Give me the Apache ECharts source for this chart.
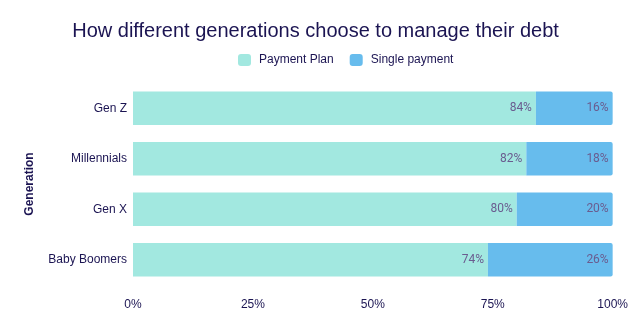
<!DOCTYPE html>
<html>
<head>
<meta charset="utf-8">
<script src="https://cdn.jsdelivr.net/npm/echarts@6/dist/echarts.min.js"></script>
<style>
  html, body { margin: 0; padding: 0; background: #fff; }
  #chart { width: 631px; height: 330px; }
</style>
</head>
<body>
<div id="chart"></div>
<script>
const categories = ['Gen Z', 'Millennials', 'Gen X', 'Baby Boomers'];
const paymentPlan = [84, 82, 80, 74];
const singlePayment = [16, 18, 20, 26];
const xTicks = [0, 25, 50, 75, 100];

const textColor = '#1b1452';
const labelColor = '#6a5c8f';
const sans = 'Liberation Sans';

const chart = echarts.init(document.getElementById('chart'), null, { renderer: 'canvas' });

const valueLabel = {
  show: true,
  position: 'insideRight',
  distance: 4,
  formatter: p => p.value + '%',
  fontFamily: 'Roboto',
  fontSize: 12,
  color: labelColor
};

chart.setOption({
  animation: false,
  title: {
    text: 'How different generations choose to manage their debt',
    left: 'center',
    top: 16,
    textStyle: { fontFamily: sans, fontSize: 20, fontWeight: 'normal', color: textColor }
  },
  legend: {
    top: 49,
    left: 233,
    itemWidth: 13,
    itemHeight: 12,
    itemGap: 16,
    icon: 'roundRect',
    textStyle: { fontFamily: sans, fontSize: 12, color: textColor, padding: [0, 0, 0, 3] }
  },
  grid: { left: 133, right: 18, top: 83, bottom: 45, containLabel: false },
  xAxis: {
    type: 'value',
    min: 0,
    max: 100,
    interval: 25,
    axisLine: { show: false },
    axisTick: { show: false },
    splitLine: { show: false },
    axisLabel: {
      margin: 14,
      fontFamily: sans,
      fontSize: 12,
      color: textColor,
      formatter: v => (xTicks.includes(v) ? v + '%' : '')
    }
  },
  yAxis: {
    type: 'category',
    data: categories,
    inverse: true,
    name: 'Generation',
    nameLocation: 'middle',
    nameGap: 97,
    nameRotate: 90,
    nameTextStyle: { fontFamily: sans, fontSize: 12, fontWeight: 'bold', color: textColor },
    axisLine: { show: false },
    axisTick: { show: false },
    axisLabel: { margin: 6, fontFamily: sans, fontSize: 12, color: textColor }
  },
  series: [
    {
      name: 'Payment Plan',
      type: 'bar',
      stack: 'total',
      data: paymentPlan,
      barWidth: '66%',
      itemStyle: { color: '#a2e8e0' },
      label: valueLabel
    },
    {
      name: 'Single payment',
      type: 'bar',
      stack: 'total',
      data: singlePayment,
      itemStyle: { color: '#67bced', borderRadius: [0, 2, 2, 0] },
      label: valueLabel
    }
  ]
});
</script>
</body>
</html>
